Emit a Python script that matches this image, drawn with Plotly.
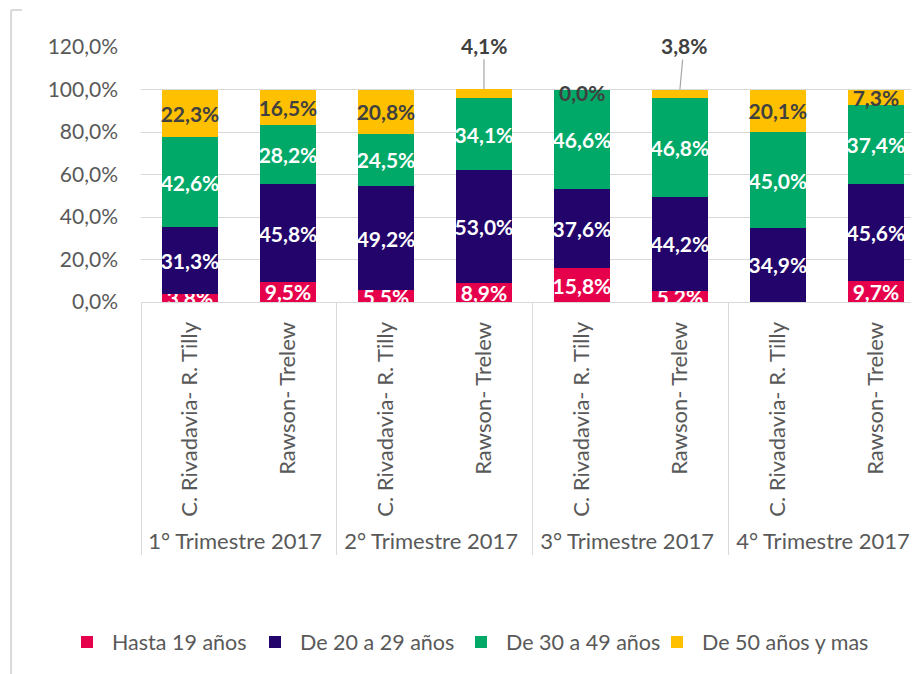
import plotly.graph_objects as go

quarters = ["1° Trimestre 2017", "2° Trimestre 2017", "3° Trimestre 2017", "4° Trimestre 2017"]
cities = ["C. Rivadavia- R. Tilly", "Rawson- Trelew"]

series_names = ["Hasta 19 años", "De 20 a 29 años", "De 30 a 49 años", "De 50 años y mas"]
hasta19 = [3.8, 9.5, 5.5, 8.9, 15.8, 5.2, 0.0, 9.7]
de20a29 = [31.3, 45.8, 49.2, 53.0, 37.6, 44.2, 34.9, 45.6]
de30a49 = [42.6, 28.2, 24.5, 34.1, 46.6, 46.8, 45.0, 37.4]
de50 = [22.3, 16.5, 20.8, 4.1, 0.0, 3.8, 20.1, 7.3]

y_ticks = [0, 20, 40, 60, 80, 100, 120]

colors = ["#E6004C", "#22046B", "#00A968", "#FFC000"]
label_colors = ["white", "white", "white", "#404040"]

x_quarter = [q for q in quarters for _ in cities]
x_city = [c for _ in quarters for c in cities]
x = [x_quarter, x_city]

FONT = "Lato"
GRAY = "#595959"
GRID = "#D9D9D9"

def fmt(v):
    return f"{v:.1f}".replace(".", ",") + "%"

legend_ids = ["legend", "legend2", "legend3", "legend4"]
legend_px = [62, 250, 456, 652]  # left edge of each legend entry (page pixels)

fig = go.Figure()
all_series = [hasta19, de20a29, de30a49, de50]
for i, (name, vals) in enumerate(zip(series_names, all_series)):
    if i == 3:
        texts = [fmt(v) if v >= 5 else "" for v in vals]
    else:
        texts = [fmt(v) if v > 0 else "" for v in vals]
    fig.add_trace(go.Bar(
        x=x, y=vals, name=name, legend=legend_ids[i],
        marker=dict(color=colors[i], line=dict(width=0)),
        text=texts, textposition="inside", insidetextanchor="middle",
        textangle=0, constraintext="none",
        textfont=dict(family=FONT, size=21, color=label_colors[i], weight="bold"),
        width=0.57, hoverinfo="skip",
    ))

# small top-segment labels with leader lines / zero label
for idx, v in enumerate(de50):
    top = hasta19[idx] + de20a29[idx] + de30a49[idx] + v
    if v == 0:
        fig.add_annotation(x=idx, y=top, text=fmt(v), showarrow=False, yshift=-3,
                           font=dict(family=FONT, size=21, color="#404040", weight="bold"))
    elif v < 5:
        fig.add_annotation(x=idx, y=top, text=fmt(v), showarrow=True,
                           arrowhead=0, arrowwidth=1.2, arrowcolor="#A6A6A6",
                           ax=0 if idx == 3 else 4, ay=-44, standoff=0,
                           font=dict(family=FONT, size=21, color="#404040", weight="bold"))

legend_cfg = {}
for lid, px in zip(legend_ids, legend_px):
    legend_cfg[lid] = dict(orientation="h", x=(px - 141) / 778, xanchor="left",
                           y=-1.333, yanchor="middle",
                           font=dict(family=FONT, size=21.5, color=GRAY), itemwidth=40,
                           bgcolor="rgba(0,0,0,0)")

fig.update_layout(
    barmode="stack",
    width=911, height=666,
    margin=dict(l=133, r=0, t=39, b=372),
    paper_bgcolor="white", plot_bgcolor="white",
    separators=",.",
    font=dict(family=FONT, color=GRAY),
    showlegend=True,
    **legend_cfg,
)
fig.update_yaxes(range=[0, 120], tickvals=y_ticks,
                 ticktext=[fmt(t) for t in y_ticks],
                 showgrid=True, gridcolor=GRID, gridwidth=1.3,
                 zeroline=False, showline=False, tickfont=dict(family=FONT, size=21, color=GRAY),
                 ticks="", ticklabelstandoff=22)
fig.update_xaxes(type="multicategory", range=[-0.5, 7.44], tickangle=-90,
                 showline=True, linecolor=GRID, linewidth=1.3,
                 showdividers=True, dividercolor=GRID, dividerwidth=1.3,
                 tickfont=dict(family=FONT, size=22, color=GRAY), ticks="",
                 ticklabelstandoff=10)

# chart area border (left edge)
fig.add_shape(type="line", xref="paper", yref="paper", x0=-0.167, x1=-0.167, y0=1.145, y1=-1.46,
              line=dict(color=GRID, width=2))
fig.add_shape(type="line", xref="paper", yref="paper", x0=-0.167, x1=-0.153, y0=1.145, y1=1.145,
              line=dict(color=GRID, width=2))

fig.write_html("out.html")
